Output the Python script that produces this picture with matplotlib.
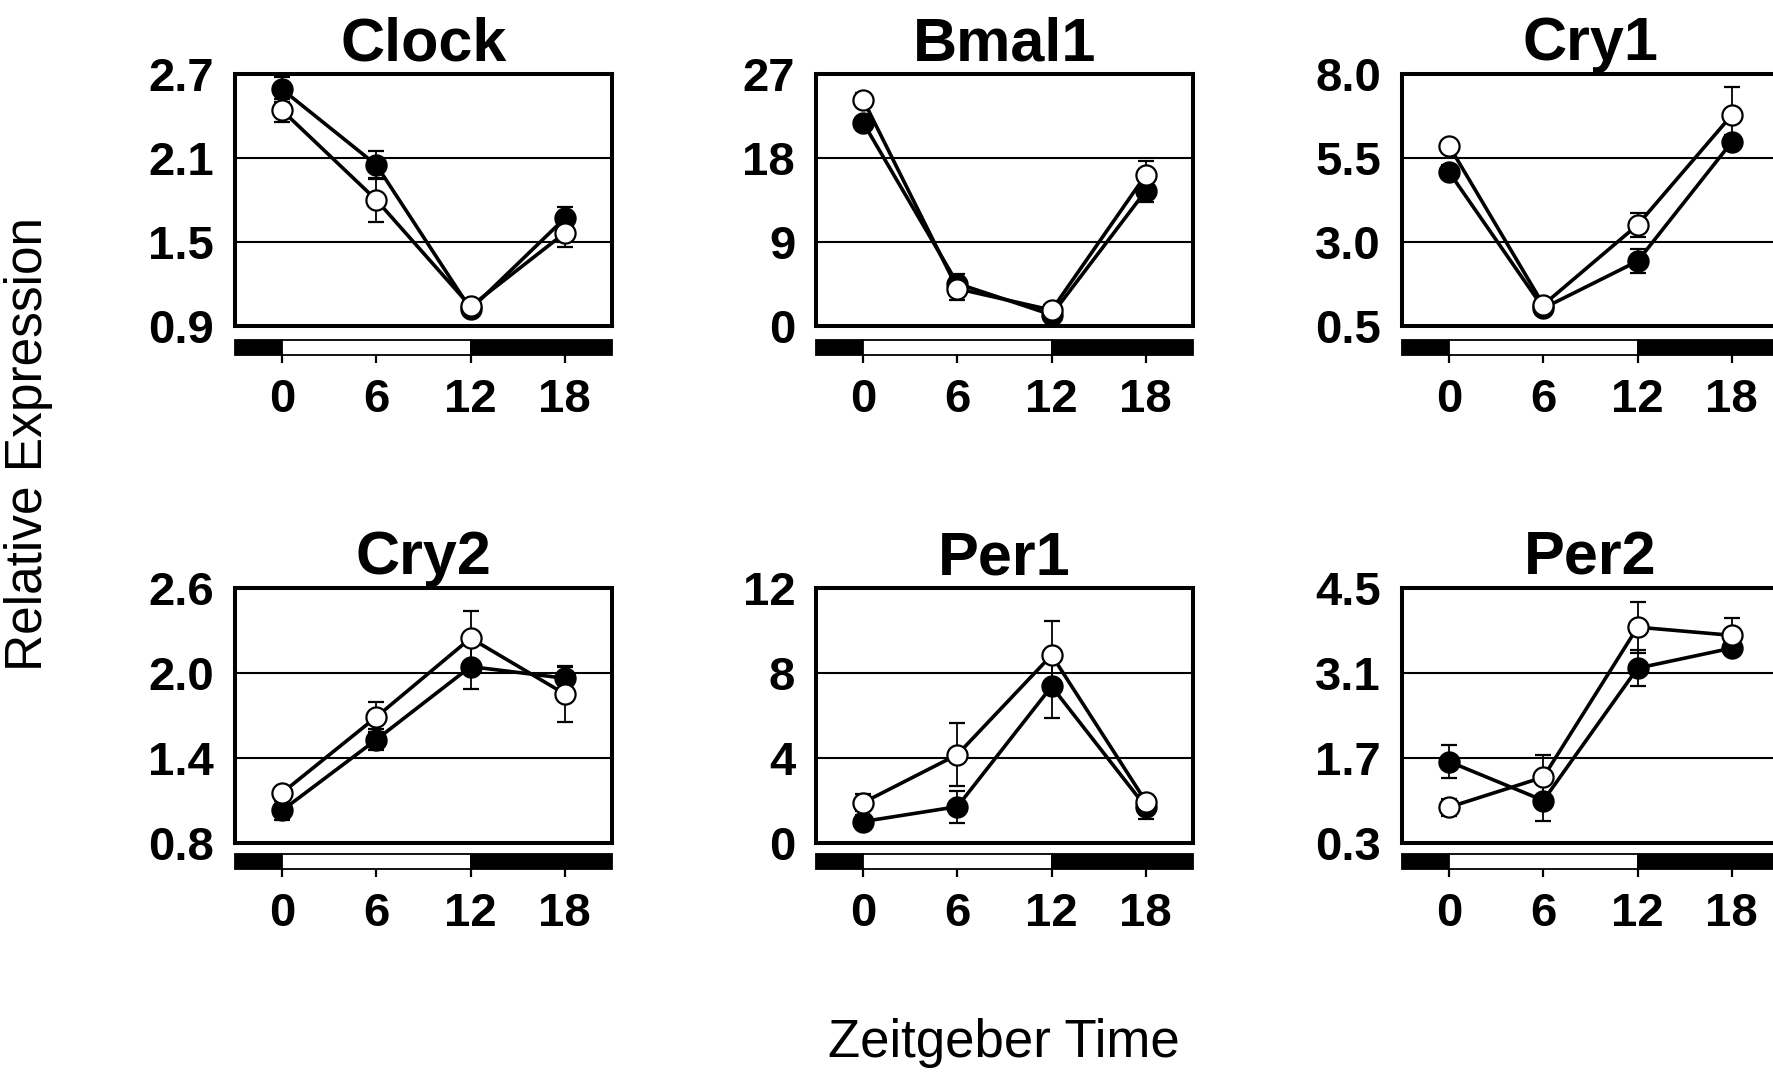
import matplotlib
matplotlib.use("Agg")
import matplotlib.pyplot as plt
import matplotlib.transforms as mtransforms

plt.rcParams['font.family'] = ['Liberation Sans', 'DejaVu Sans']

# ---------------- data ----------------
zt = [0, 6, 12, 18]
genes = ["Clock", "Bmal1", "Cry1", "Cry2", "Per1", "Per2"]

filled_vals = {
    "Clock": [2.59, 2.05, 1.02, 1.67],
    "Bmal1": [21.8, 4.55, 1.2, 14.5],
    "Cry1":  [5.08, 1.03, 2.43, 5.98],
    "Cry2":  [1.03, 1.53, 2.045, 1.963],
    "Per1":  [1.01, 1.71, 7.37, 1.69],
    "Per2":  [1.64, 1.00, 3.18, 3.51],
}
filled_err = {
    "Clock": [0.09, 0.10, 0.02, 0.08],
    "Bmal1": [0.5, 1.0, 0.3, 1.2],
    "Cry1":  [0.2, 0.05, 0.36, 0.2],
    "Cry2":  [0.07, 0.075, 0.158, 0.08],
    "Per1":  [0.3, 0.75, 1.48, 0.56],
    "Per2":  [0.27, 0.33, 0.30, 0.06],
}
open_vals = {
    "Clock": [2.44, 1.80, 1.04, 1.565],
    "Bmal1": [24.25, 4.0, 1.7, 16.2],
    "Cry1":  [5.86, 1.13, 3.51, 6.78],
    "Cry2":  [1.154, 1.69, 2.246, 1.852],
    "Per1":  [1.9, 4.16, 8.84, 1.95],
    "Per2":  [0.89, 1.385, 3.855, 3.72],
}
open_err = {
    "Clock": [0.08, 0.16, 0.02, 0.10],
    "Bmal1": [0.75, 1.2, 0.3, 1.5],
    "Cry1":  [0.12, 0.05, 0.36, 0.83],
    "Cry2":  [0.03, 0.105, 0.195, 0.2],
    "Per1":  [0.4, 1.5, 1.6, 0.3],
    "Per2":  [0.14, 0.36, 0.42, 0.29],
}
yticks = {
    "Clock": [0.9, 1.5, 2.1, 2.7],
    "Bmal1": [0, 9, 18, 27],
    "Cry1":  [0.5, 3.0, 5.5, 8.0],
    "Cry2":  [0.8, 1.4, 2.0, 2.6],
    "Per1":  [0, 4, 8, 12],
    "Per2":  [0.3, 1.7, 3.1, 4.5],
}
ytick_labels = {
    "Clock": ["0.9", "1.5", "2.1", "2.7"],
    "Bmal1": ["0", "9", "18", "27"],
    "Cry1":  ["0.5", "3.0", "5.5", "8.0"],
    "Cry2":  ["0.8", "1.4", "2.0", "2.6"],
    "Per1":  ["0", "4", "8", "12"],
    "Per2":  ["0.3", "1.7", "3.1", "4.5"],
}
xtick_labels = ["0", "6", "12", "18"]

# light/dark bar segments (ZT)
ld_starts = [-3, 0, 12]
ld_widths = [3, 12, 9]
ld_colors = ["black", "white", "black"]

# ---------------- layout ----------------
W, H = 1774, 1076
fig = plt.figure(figsize=(W / 100, H / 100), dpi=100)

col_left = [235, 816, 1402]
col_width = 377
row_top = [74, 588]
row_height = [252, 255]
bar_top = [340, 854]
bar_h = 15

xlim = (-3, 21)
ylab_offset = mtransforms.ScaledTranslation(0, -4 / 100, fig.dpi_scale_trans)

for i, g in enumerate(genes):
    r, c = divmod(i, 3)
    l = col_left[c] / W
    w = col_width / W
    b = 1 - (row_top[r] + row_height[r]) / H
    h = row_height[r] / H
    ax = fig.add_axes([l, b, w, h])
    yt = yticks[g]
    ax.set_xlim(*xlim)
    ax.set_ylim(yt[0], yt[-1])
    ax.set_yticks(yt)
    ax.set_yticklabels(ytick_labels[g], fontsize=34, fontweight='bold')
    for lab in ax.get_yticklabels():
        lab.set_transform(lab.get_transform() + ylab_offset)
    ax.set_xticks([])
    ax.tick_params(axis='y', length=0, pad=15)
    ax.yaxis.grid(True, color='black', linewidth=1.5)
    ax.set_axisbelow(True)
    for s in ax.spines.values():
        s.set_linewidth(2.9)
    ax.set_title(g, fontsize=44, fontweight='bold', pad=10)

    ax.errorbar(zt, filled_vals[g], yerr=filled_err[g], fmt='-o', color='black',
                mfc='black', mec='black', ms=14.5, mew=1.6, lw=2.6,
                elinewidth=1.3, capsize=6, capthick=1.3, zorder=3)
    ax.errorbar(zt, open_vals[g], yerr=open_err[g], fmt='-o', color='black',
                mfc='white', mec='black', ms=14.5, mew=1.6, lw=2.6,
                elinewidth=1.3, capsize=6, capthick=1.3, zorder=4)

    # light/dark bar
    bb = 1 - (bar_top[r] + bar_h) / H
    axb = fig.add_axes([l, bb, w, bar_h / H])
    axb.barh([0.5] * len(ld_starts), ld_widths, left=ld_starts, height=1.0,
             color=ld_colors, edgecolor='black', linewidth=1.3, clip_on=False)
    axb.set_xlim(*xlim)
    axb.set_ylim(0, 1)
    for s in axb.spines.values():
        s.set_visible(False)
    axb.set_yticks([])
    axb.set_xticks(zt)
    axb.set_xticklabels(xtick_labels, fontsize=34, fontweight='bold')
    axb.tick_params(axis='x', length=5.5, width=1.6, pad=11)
    axb.patch.set_visible(False)

fig.text(29 / W, 1 - 444 / H, "Relative Expression", rotation=90,
         fontsize=37, ha='center', va='center')
fig.text(1004 / W, 1 - 1043 / H, "Zeitgeber Time", fontsize=38,
         ha='center', va='center')

fig.savefig("out.png", dpi=100)
